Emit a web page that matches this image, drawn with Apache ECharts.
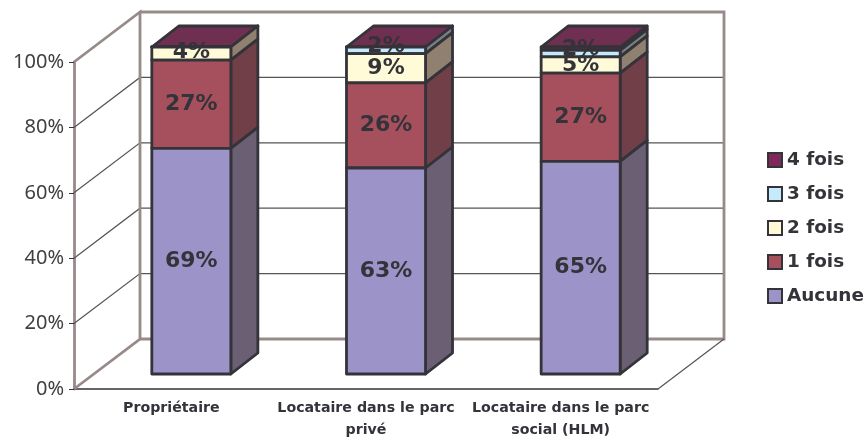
<!DOCTYPE html>
<html>
<head>
<meta charset="utf-8">
<style>html,body{margin:0;padding:0;background:#fff}#c{width:866px;height:438px}</style>
<script src="https://cdn.jsdelivr.net/npm/echarts@6/dist/echarts.min.js"></script>
</head>
<body>
<div id="c"></div>
<script>
const categories = ['Propriétaire', 'Locataire dans le parc\nprivé', 'Locataire dans le parc\nsocial (HLM)'];
const aucune = [69, 63, 65];
const uneFois = [27, 26, 27];
const deuxFois = [4, 9, 5];
const troisFois = [0, 2, 2];
const quatreFois = [0, 0, 1];
const yTicks = [0, 20, 40, 60, 80, 100];
const innerGridLines = [20, 40, 60, 80];

const FONT = '"DejaVu Sans", Verdana, sans-serif';
const INK = '#333339';
const WALL = '#978b89';
const WALL_DEPTH = [66, -50];
const BAR_SHIFT = [20, -15];
const BAR_DEPTH = [27, -21];
const BAR_RATIO = 0.406;

const stack = [
  { name: 'Aucune', values: aucune, front: '#9c94c8', side: '#6b5f73', top: '#6b6190' },
  { name: '1 fois', values: uneFois, front: '#a5505c', side: '#713f48', top: '#713f48' },
  { name: '2 fois', values: deuxFois, front: '#fffbd8', side: '#8f806f', top: '#8f806f' },
  { name: '3 fois', values: troisFois, front: '#c5eafb', side: '#777f82', top: '#777f82' },
  { name: '4 fois', values: quatreFois, front: '#7d2a58', side: '#5c3050', top: '#6e2f50' }
];

const add = (p, d) => [p[0] + d[0], p[1] + d[1]];

function segmentRenderer(s, isTop) {
  return function (params, api) {
    const i = api.value(0), low = api.value(1), high = api.value(2), v = api.value(3);
    const band = api.size([1, 0])[0];
    const w = band * BAR_RATIO;
    const cx = api.coord([i, low])[0] + BAR_SHIFT[0];
    const yLow = api.coord([i, low])[1] + BAR_SHIFT[1];
    const yHigh = api.coord([i, high])[1] + BAR_SHIFT[1];
    const fl = [cx - w / 2, yLow], fr = [cx + w / 2, yLow];
    const tl = [cx - w / 2, yHigh], tr = [cx + w / 2, yHigh];
    const line = { stroke: INK, lineWidth: 2.8, lineJoin: 'round' };
    const poly = (pts, fill) => ({
      type: 'polygon', shape: { points: pts }, style: Object.assign({ fill: fill }, line)
    });
    const children = [
      poly([fr, tr, add(tr, BAR_DEPTH), add(fr, BAR_DEPTH)], s.side)
    ];
    if (isTop) {
      children.push(poly([tl, tr, add(tr, BAR_DEPTH), add(tl, BAR_DEPTH)], s.top));
    }
    children.push(poly([fl, fr, tr, tl], s.front));
    if (v >= 2) {
      const lift = v <= 2 ? 4 : (v <= 4 ? 1.5 : 0);
      children.push({
        type: 'text',
        style: {
          text: v + '%', x: cx, y: (yLow + yHigh) / 2 - lift,
          fill: INK, font: 'bold 22px ' + FONT, align: 'center', verticalAlign: 'middle'
        }
      });
    }
    return { type: 'group', children: children };
  };
}

function segmentData(s, index) {
  return categories.map((c, i) => {
    let base = 0;
    for (let k = 0; k < index; k++) base += stack[k].values[i];
    return [i, base, base + s.values[i], s.values[i]];
  });
}

// drawn from the top of the stack downwards: a lower segment paints over the label above it
const segmentSeries = stack.map((s, index) => ({
  name: s.name,
  type: 'custom',
  xAxisIndex: 0,
  yAxisIndex: 0,
  z: 5,
  silent: true,
  itemStyle: { color: s.front, borderColor: INK, borderWidth: 2.5 },
  data: segmentData(s, index),
  renderItem: segmentRenderer(s, index === stack.length - 1)
})).reverse();

const frameSeries = {
  type: 'custom', xAxisIndex: 1, yAxisIndex: 0, z: 1, silent: true,
  data: innerGridLines.map(v => [v]),
  renderItem: function (params, api) {
    const v = api.value(0);
    const a = api.coord([0, v]), c = api.coord([categories.length, v]);
    const b = add(a, WALL_DEPTH), d = add(c, WALL_DEPTH);
    return {
      type: 'polyline', shape: { points: [a, b, d] },
      style: { stroke: '#555555', lineWidth: 1.2, fill: 'none' }
    };
  }
};

const wallSeries = {
  type: 'custom', xAxisIndex: 1, yAxisIndex: 0, z: 2, silent: true,
  data: [[0]],
  renderItem: function (params, api) {
    const n = categories.length;
    const a0 = api.coord([0, 0]), a1 = api.coord([0, 100]);
    const c0 = api.coord([n, 0]);
    const c1 = api.coord([n, 100]);
    const wall = { stroke: WALL, lineWidth: 2.8, fill: 'none' };
    return {
      type: 'group',
      children: [
        { type: 'polyline', shape: { points: [a0, add(a0, WALL_DEPTH), add(a1, WALL_DEPTH), a1] }, style: wall },
        { type: 'polyline', shape: { points: [add(a0, WALL_DEPTH), add(c0, WALL_DEPTH), add(c1, WALL_DEPTH), add(a1, WALL_DEPTH)] }, style: wall },
        { type: 'line', shape: { x1: c0[0], y1: c0[1], x2: c0[0] + WALL_DEPTH[0], y2: c0[1] + WALL_DEPTH[1] }, style: { stroke: '#555555', lineWidth: 1.2 } }
      ]
    };
  }
};

const chart = echarts.init(document.getElementById('c'), null, { renderer: 'canvas' });
chart.setOption({
  animation: false,
  backgroundColor: '#ffffff',
  textStyle: { fontFamily: FONT },
  grid: { left: 74, right: 208, top: 62, bottom: 49, containLabel: false, outerBoundsMode: 'none' },
  legend: {
    orient: 'vertical', left: 767, top: 151, padding: 0, icon: 'rect',
    itemWidth: 14, itemHeight: 14, itemGap: 16,
    data: ['4 fois', '3 fois', '2 fois', '1 fois', 'Aucune'],
    textStyle: { fontFamily: FONT, fontWeight: 'bold', fontSize: 18.4, color: INK },
    selectedMode: false
  },
  xAxis: [
    {
      type: 'category', data: categories,
      axisLine: { lineStyle: { color: INK, width: 1.5 } },
      axisTick: { length: 6, lineStyle: { color: '#555', width: 1 } },
      axisLabel: {
        interval: 0, margin: 9, color: INK, fontFamily: FONT, fontWeight: 'bold', fontSize: 14.2,
        lineHeight: 21.5
      },
      splitLine: { show: false }
    },
    { type: 'value', min: 0, max: categories.length, show: false, splitLine: { show: false } }
  ],
  yAxis: {
    type: 'value', min: yTicks[0], max: yTicks[yTicks.length - 1], interval: yTicks[1] - yTicks[0],
    axisLine: { show: true, lineStyle: { color: WALL, width: 2.8 } },
    axisTick: { show: true, length: 5, lineStyle: { color: INK, width: 1 } },
    axisLabel: { formatter: '{value}%', margin: 10, color: '#404040', fontFamily: '"Noto Sans", sans-serif', fontSize: 20 },
    splitLine: { show: false }
  },
  series: [frameSeries, wallSeries].concat(segmentSeries)
});
</script>
</body>
</html>
